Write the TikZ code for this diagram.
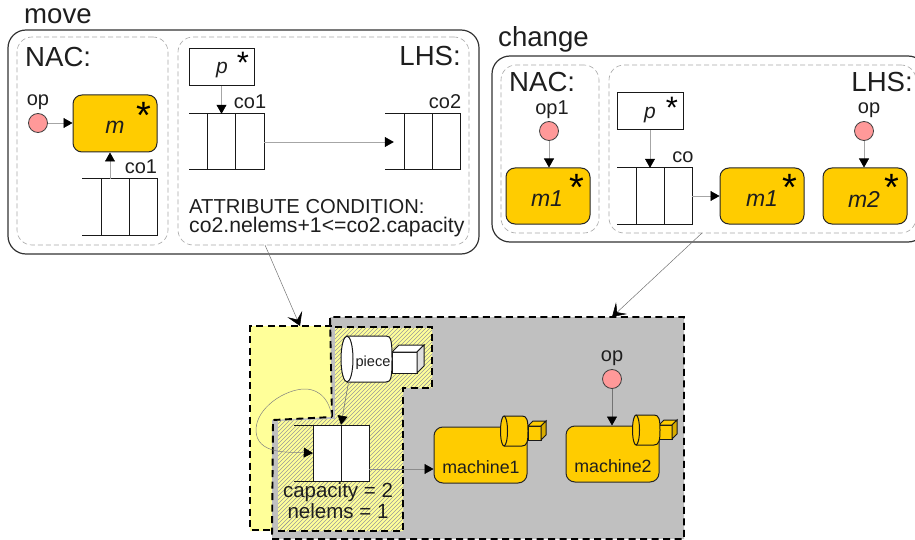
\documentclass[tikz,border=0pt]{standalone}
\usepackage{fontspec}
\setmainfont{Liberation Sans}
\usetikzlibrary{arrows.meta,fit,calc}
\definecolor{ink}{HTML}{1E1E1E}
\definecolor{amber}{HTML}{FFCC00}
\definecolor{ambersh}{HTML}{D9AC00}
\definecolor{pinkop}{HTML}{FF9999}
\definecolor{paleyel}{HTML}{FFFF99}
\definecolor{midgray}{HTML}{C0C0C0}
\tikzset{
  x=1pt,y=-1pt,
  outerframe/.style={draw=black!80,line width=1.2pt,rounded corners=18,inner sep=0,fit={#1}},
  dashframe/.style={draw=black!35,line width=.6pt,dash pattern=on 5pt off 3pt,rounded corners=15,inner sep=0,fit={#1}},
  machinebox/.style={draw=black!85,line width=1pt,fill=amber,rounded corners=9,inner sep=0,fit={#1}},
  piecebox/.style={draw=black!90,line width=1pt,fill=white,inner sep=0,fit={#1}},
  frameslot/.style={inner sep=0,fit={#1}},
  opdot/.style={circle,draw=black!75,line width=.8pt,fill=pinkop,inner sep=0,minimum size=19},
  conn/.style={draw=black!35,line width=.6pt,-{Triangle[black,length=9pt,width=10pt]}},
  morph/.style={draw=black!55,line width=.5pt,-{Stealth[black,length=13pt,width=16pt,inset=6pt]}},
  loopconn/.style={draw=black!50,line width=.5pt,-{Triangle[black,length=9pt,width=10pt]}},
  txt/.style={text=ink,inner sep=0,font=\fontsize{20}{20}\selectfont},
  heading/.style={text=ink,inner sep=0,anchor=base west,font=\fontsize{27.6}{27}\selectfont},
  headingr/.style={text=ink,inner sep=0,anchor=base east,font=\fontsize{27.6}{27}\selectfont},
  var/.style={text=ink,inner sep=0,font=\fontsize{23}{23}\selectfont\itshape},
  pvar/.style={text=ink,inner sep=0,font=\fontsize{21}{21}\selectfont\itshape},
  bigstar/.style={text=black,inner sep=0,font=\fontsize{38}{38}\selectfont},
  smallstar/.style={text=black,inner sep=0,font=\fontsize{31}{31}\selectfont},
  gline/.style={draw=black,line width=1.9pt,dash pattern=on 7pt off 4.5pt},
  qline/.style={draw=black!90,line width=1pt},
  solidline/.style={draw=black!90,line width=1pt},
}
% queue: name, x0 (free ends), x1, x2, x3, top, bottom, fill of the slots
\newcommand{\qbox}[8]{%
  \fill[#8] (#3,#6) rectangle (#5,#7);
  \node[frameslot={(#3,#6)(#5,#7)}] (#1) {};
  \draw[qline] (#2,#6) -- (#5,#6) -- (#5,#7) -- (#2,#7);
  \draw[qline] (#3,#6) -- (#3,#7) (#4,#6) -- (#4,#7);
}
% cylinder: left-ellipse cx, cy, rx, ry, right x, body fill, ellipse fill
\newcommand{\cylin}[7]{%
  \draw[solidline,fill=#6] (#1,#2-#4) -- (#5-6,#2-#4) .. controls (#5-1,#2-#4) and (#5,#2-#4+4) .. (#5,#2) .. controls (#5,#2+#4-4) and (#5-1,#2+#4) .. (#5-6,#2+#4) -- (#1,#2+#4);
  \draw[solidline,fill=#7] (#1,#2) ellipse [x radius=#3,y radius=#4];
}
% prism: x0,y0,x1,y1,dx, front fill, side fill
\newcommand{\prismb}[7]{%
  \draw[solidline,fill=#6] (#1,#2) -- (#3,#2) -- (#3,#4) -- (#1,#4) -- cycle;
  \draw[solidline,fill=#6] (#1,#2) -- (#1+#5,#2-#5) -- (#3+#5,#2-#5) -- (#3,#2) -- cycle;
  \draw[solidline,fill=#7] (#3,#2) -- (#3+#5,#2-#5) -- (#3+#5,#4-#5) -- (#3,#4) -- cycle;
}
\begin{document}
\begin{tikzpicture}
\useasboundingbox (0,0) rectangle (915,540);
\clip (0,0) rectangle (915,540);
%---------- move
\node[heading] (movet) at (24,24) {move};
\node[outerframe={(8,30)(479,254)}] (moveF) {};
\node[dashframe={(17,37)(168,245)}] (moveN) {};
\node[dashframe={(178,37)(469,245)}] (moveL) {};
\node[heading] (moveNt) at (25,67) {NAC:};
\node[headingr] (moveLt) at (461,66) {LHS:};
\node[txt] (mop) at (38,102) {op};
\node[opdot] (mopd) at (38,123) {};
\node[machinebox={(73,95)(157,152)}] (mm) {};
\node[var] (mmt) at (115,127) {m};
\node[bigstar] (mms) at (144,115) {*};
\qbox{mq1}{82}{101}{129}{157}{179}{235}{white}
\node[txt] (mq1t) at (141,167) {co1};
\draw[conn] (mopd) -- (mopd -| mm.west);
\coordinate (mq1a) at (110,179);
\draw[conn] (mq1a) -- (mq1a |- mm.south);
\node[piecebox={(189,49)(254,86)}] (mp) {};
\node[pvar] (mpt) at (222,70) {p};
\node[smallstar] (mps) at (243,63) {*};
\qbox{mq2}{189}{207}{235}{264}{114}{170}{white}
\node[txt] (mq2t) at (250,102) {co1};
\qbox{mq3}{385}{404}{432}{460}{114}{170}{white}
\node[txt] (mq3t) at (445,102) {co2};
\draw[conn] (mp.south) -- (mp.south |- mq2.north);
\draw[conn] (mq2.east) -- ($(mq3.west)+(-10,0)$);
\node[text=ink,inner sep=0,anchor=base west,font=\fontsize{20.2}{20}\selectfont] (att1) at (189,213) {ATTRIBUTE CONDITION:};
\node[text=ink,inner sep=0,anchor=base west,font=\fontsize{21.2}{21}\selectfont] (att2) at (189,232) {co2.nelems+1<=co2.capacity};
%---------- change
\node[heading] (chgt) at (498,47) {change};
\node[outerframe={(492,56)(926,242)}] (chF) {};
\node[dashframe={(501,65)(599,233)}] (chN) {};
\node[dashframe={(609,65)(916,233)}] (chL) {};
\node[heading] (chNt) at (509,92) {NAC:};
\node[headingr] (chLt) at (913,92) {LHS:};
\node[txt] (cop1) at (552,110) {op1};
\node[opdot] (cop1d) at (549,131) {};
\node[machinebox={(506,168)(590,224)}] (cm0) {};
\node[var] (cm0t) at (547,199) {m1};
\node[bigstar] (cm0s) at (577,187) {*};
\draw[conn] (cop1d) -- (cop1d |- cm0.north);
\node[piecebox={(617,93)(683,130)}] (cp) {};
\node[pvar] (cpt) at (650,115) {p};
\node[smallstar] (cps) at (672,108) {*};
\qbox{cq}{617}{636}{664}{692}{168}{224}{white}
\node[txt] (cqt) at (683,157) {co};
\node[machinebox={(720,168)(804,224)}] (cm1) {};
\node[var] (cm1t) at (762,199) {m1};
\node[bigstar] (cm1s) at (790,187) {*};
\node[machinebox={(823,168)(907,224)}] (cm2) {};
\node[var] (cm2t) at (864,199) {m2};
\node[bigstar] (cm2s) at (892,187) {*};
\node[txt] (cop) at (869,110) {op};
\node[opdot] (copd) at (864,131) {};
\draw[conn] (cp.south) -- (cp.south |- cq.north);
\draw[conn] (cq.east) -- (cq.east -| cm1.west);
\draw[conn] (copd) -- (copd |- cm2.north);
%---------- host graph: yellow, gray, hatch
\coordinate (yc) at (300,326);
\coordinate (gc) at (612,317);
\coordinate (lc) at (265,245);
\coordinate (rc) at (702,233);
\fill[paleyel] (250,326) -- (432,326) -- (432,388) -- (403,388) -- (403,531) -- (250,531) -- cycle;
\fill[midgray] (330,317) -- (684,317) -- (684,539) -- (272,539) -- (272,420) -- (332,417) -- cycle;
\begin{scope}
  \clip (335,328) -- (432,328) -- (432,388) -- (403,388) -- (403,531) -- (278,531) -- (278,421) -- (335,419) -- cycle;
  \fill[paleyel] (270,320) rectangle (440,540);
  \foreach \k in {0,4,...,300} {
    \draw[black!40,line width=.6pt] (270+\k,540) -- (270+\k+220,320);
    \draw[black!40,line width=.6pt] (270-\k,540) -- (270-\k+220,320);
  }
\end{scope}
\draw[gline] (332,326) -- (250,326) -- (250,530) -- (272,530);
\draw[gline] (335,327) -- (432,327) -- (432,388) -- (403,388) -- (403,531) -- (272,531);
\draw[gline] (332,417) -- (330,317) -- (684,317) -- (684,539) -- (272,539) -- (273,420) -- cycle;
% piece
\node[frameslot={(341,336)(392,382)}] (pc) {};
\prismb{392}{352}{417}{373}{7}{white}{black!12}
\cylin{347}{359}{6}{23}{392}{white}{white}
\node[text=ink,inner sep=0,font=\fontsize{14.6}{15}\selectfont] (pct) at (373,363) {piece};
% queue
\qbox{hq}{294}{313}{341}{369}{425}{481}{white}
\node[text=ink,inner sep=0,font=\fontsize{20.5}{20}\selectfont] (capt) at (338,492) {capacity = 2};
\node[text=ink,inner sep=0,font=\fontsize{20.5}{20}\selectfont] (nelt) at (338,511) {nelems = 1};
\draw[conn,draw=black!55] (pc.south) ++(-18,0) -- (hq.north);
\coordinate (loopstart) at (332,417);
\draw[loopconn] (loopstart) .. controls (328,392) and (312,389) .. (305,389) .. controls (285,389) and (256,408) .. (256,430) .. controls (256,455) and (290,452) .. (hq.west |- 0,453);
% machines
\node[machinebox={(434,427)(527,483)}] (h1) {};
\prismb{528}{426}{541}{440}{5}{amber}{ambersh}
\cylin{504}{431}{3.5}{15}{528}{amber}{amber}
\node[text=ink,inner sep=0,font=\fontsize{17.8}{18}\selectfont] (h1t) at (481,467) {machine1};
\node[machinebox={(566,426)(659,482)}] (h2) {};
\prismb{659}{425}{672}{439}{5}{amber}{ambersh}
\cylin{636}{430}{3.5}{15}{660}{amber}{amber}
\node[text=ink,inner sep=0,font=\fontsize{17.8}{18}\selectfont] (h2t) at (613,466) {machine2};
\node[txt] (hop) at (612,358) {op};
\node[opdot] (hopd) at (612,379) {};
\draw[conn,draw=black!55] (hopd) -- (hopd |- h2.north);
\draw[conn,draw=black!45] (hq.east |- 0,469) -- (h1.west |- 0,469);
% morphisms
\draw[morph] (lc) -- (yc);
\draw[morph] (rc) -- (gc);
\end{tikzpicture}
\end{document}
